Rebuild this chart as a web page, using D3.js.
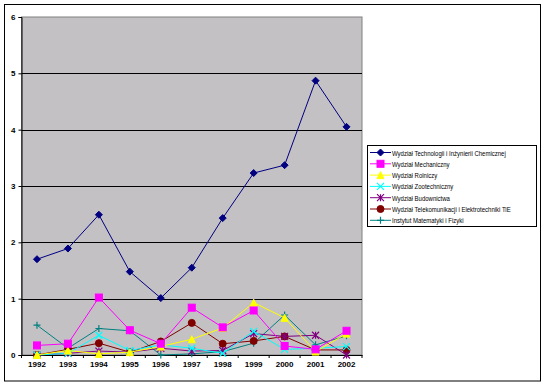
<!DOCTYPE html>
<html><head><meta charset="utf-8">
<script src="https://cdn.jsdelivr.net/npm/d3@7"></script>
<style>body{margin:0;background:#fff}svg{display:block}text{font-family:"Liberation Sans",Arial,sans-serif}</style>
</head><body><div id="c"></div>
<script>
const years = ["1992","1993","1994","1995","1996","1997","1998","1999","2000","2001","2002"];
const yTicks = [0,1,2,3,4,5,6];
const seriesNames = [
  "Wydział Technologii i Inżynierii Chemicznej",
  "Wydział Mechaniczny",
  "Wydział Rolniczy",
  "Wydział Zootechniczny",
  "Wydział Budownictwa",
  "Wydział Telekomunikacji i Elektrotechniki TiE",
  "Instytut Matematyki i Fizyki"
];
const chemia     = [1.70,1.89,2.49,1.48,1.01,1.55,2.43,3.23,3.37,4.87,4.05];
const mechanika  = [0.17,0.20,1.02,0.44,0.20,0.84,0.49,0.79,0.16,0.10,0.43];
const rolniczy   = [0.00,0.08,0.02,0.05,0.15,0.28,0.48,0.93,0.66,0.06,0.38];
const zootech    = [0.00,0.03,0.35,0.08,0.18,0.12,0.03,0.42,0.10,0.12,0.15];
const budownictwo= [0.00,0.03,0.07,0.05,0.12,0.07,0.08,0.38,0.33,0.35,0.00];
const telekom    = [0.00,0.10,0.21,0.05,0.24,0.57,0.20,0.25,0.33,0.09,0.09];
const matematyka = [0.53,0.12,0.47,0.43,0.00,0.02,0.06,0.21,0.71,0.18,0.34];
const colors = ["#000080","#FF00FF","#FFFF00","#00FFFF","#800080","#800000","#008080"];
const markers = ["diamond","square","triangle","x","star","circle","plus"];
const allSeries = [chemia,mechanika,rolniczy,zootech,budownictwo,telekom,matematyka];

const W=544,H=384;
const svg=d3.select("#c").append("svg").attr("width",W).attr("height",H);
svg.append("rect").attr("x",4.5).attr("y",4.5).attr("width",536).attr("height",376.5)
  .attr("fill","#fff").attr("stroke","#000").attr("stroke-width",1);

const pl=21.5,pr=362,pt=17,pb=355;
const x=d3.scaleBand().domain(years).range([pl,pr]);
const y=d3.scaleLinear().domain([0,6]).range([pb,pt]);

svg.append("rect").attr("x",pl).attr("y",pt).attr("width",pr-pl).attr("height",pb-pt)
  .attr("fill","#C3C1C3").attr("stroke","#808080").attr("stroke-width",1);
svg.append("g").selectAll("line").data(yTicks.filter(d=>d>0&&d<6)).join("line")
  .attr("x1",pl).attr("x2",pr).attr("y1",d=>Math.round(y(d))+0.5).attr("y2",d=>Math.round(y(d))+0.5)
  .attr("stroke","#000").attr("stroke-width",1);

const ya=svg.append("g").attr("transform",`translate(${pl},0)`)
  .call(d3.axisLeft(y).tickValues(yTicks).tickSize(3).tickPadding(3).tickFormat(d3.format("d")));
ya.select(".domain").attr("stroke","#000");
ya.selectAll("text").attr("font-size",8).attr("font-weight","bold").attr("fill","#000");
const xa=svg.append("g").attr("transform",`translate(0,${pb})`)
  .call(d3.axisBottom(x).tickSize(0).tickPadding(6));
xa.select(".domain").attr("stroke","#000");
xa.selectAll("text").attr("font-size",8).attr("font-weight","bold").attr("fill","#000");
const bounds=years.map(d=>x(d)).concat([x(years[years.length-1])+x.bandwidth()]);
xa.selectAll("line.b").data(bounds).join("line").attr("class","b")
  .attr("x1",d=>d).attr("x2",d=>d).attr("y1",0).attr("y2",3).attr("stroke","#000");

function drawMarker(g,type,color,cx,cy){
  const s=3.5;
  if(type==="diamond") g.append("path").attr("d",`M${cx},${cy-s}L${cx+s},${cy}L${cx},${cy+s}L${cx-s},${cy}Z`).attr("fill",color).attr("stroke",color);
  else if(type==="square") g.append("rect").attr("x",cx-s).attr("y",cy-s).attr("width",2*s).attr("height",2*s).attr("fill",color).attr("stroke",color);
  else if(type==="triangle") g.append("path").attr("d",`M${cx},${cy-s}L${cx+s},${cy+s}L${cx-s},${cy+s}Z`).attr("fill",color).attr("stroke",color);
  else if(type==="circle") g.append("circle").attr("cx",cx).attr("cy",cy).attr("r",s).attr("fill",color).attr("stroke",color);
  else if(type==="x") g.append("path").attr("d",`M${cx-s},${cy-s}L${cx+s},${cy+s}M${cx-s},${cy+s}L${cx+s},${cy-s}`).attr("stroke",color).attr("stroke-width",1.2);
  else if(type==="plus") g.append("path").attr("d",`M${cx-s},${cy}L${cx+s},${cy}M${cx},${cy-s}L${cx},${cy+s}`).attr("stroke",color).attr("stroke-width",1.2);
  else if(type==="star") g.append("path").attr("d",`M${cx-s},${cy-s}L${cx+s},${cy+s}M${cx-s},${cy+s}L${cx+s},${cy-s}M${cx},${cy-s}L${cx},${cy+s}`).attr("stroke",color).attr("stroke-width",1.2);
}

const line=d3.line().x((d,i)=>x(years[i])+x.bandwidth()/2).y(d=>y(d));
for(let k=allSeries.length-1;k>=0;k--){
  const g=svg.append("g");
  g.append("path").datum(allSeries[k]).attr("d",line).attr("fill","none").attr("stroke",colors[k]).attr("stroke-width",1);
  allSeries[k].forEach((v,i)=>drawMarker(g,markers[k],colors[k],x(years[i])+x.bandwidth()/2,y(v)));
}

const lg=svg.append("g");
lg.append("rect").attr("x",367.5).attr("y",145.5).attr("width",169).attr("height",81)
  .attr("fill","#fff").attr("stroke","#000");
seriesNames.forEach((n,i)=>{
  const yy=152.5+i*11.3;
  lg.append("line").attr("x1",370).attr("x2",391).attr("y1",yy).attr("y2",yy).attr("stroke",colors[i]).attr("stroke-width",1);
  drawMarker(lg,markers[i],colors[i],380.5,yy);
  lg.append("text").attr("transform",`translate(392,${yy+3}) scale(0.8,1)`)
    .attr("font-size",7.5).attr("fill","#000").text(n);
});
</script></body></html>
